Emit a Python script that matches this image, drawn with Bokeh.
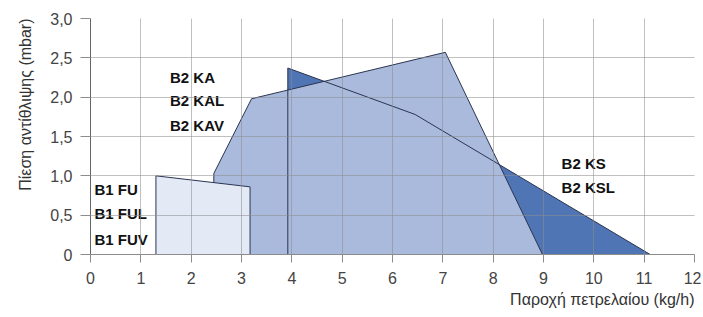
from bokeh.plotting import figure
from bokeh.models import FixedTicker, Range1d, Title
from bokeh.core.properties import value
from bokeh.embed import file_html
from bokeh.resources import INLINE

# Data
fu_x = [1.3, 1.3, 3.17, 3.17]
fu_y = [0.0, 1.0, 0.86, 0.0]
ka_x = [2.45, 2.45, 3.2, 7.05, 8.98]
ka_y = [0.0, 1.03, 1.98, 2.57, 0.0]
ks_x = [3.92, 3.92, 6.45, 11.12]
ks_y = [0.0, 2.37, 1.78, 0.0]

labels_ka = ["B2 KA", "B2 KAL", "B2 KAV"]
labels_ka_y = [2.25, 1.96, 1.64]
labels_fu = ["B1 FU", "B1 FUL", "B1 FUV"]
labels_fu_y = [0.82, 0.52, 0.19]
labels_ks = ["B2 KS", "B2 KSL"]
labels_ks_y = [1.16, 0.85]

x_ticks = list(range(0, 13))
y_ticks = [0, 0.5, 1.0, 1.5, 2.0, 2.5, 3.0]
y_tick_labels = ["0", "0,5", "1,0", "1,5", "2,0", "2,5", "3,0"]

x_title = "Παροχή πετρελαίου (kg/h)"
y_title = "Πίεση αντίθλιψης (mbar)"

p = figure(width=701, height=315, output_backend="svg", toolbar_location=None,
           x_range=Range1d(0, 12), y_range=Range1d(0, 3),
           min_border_left=90, min_border_right=7, min_border_top=18, min_border_bottom=61)
p.outline_line_color = None
p.background_fill_color = "white"

edge = "#2b3550"
# KS fill (bottom layer)
p.patch(ks_x, ks_y, fill_color="#5075b4", line_color=None)
# KA
p.patch(ka_x, ka_y, fill_color="#a9badc", line_color=edge, line_width=1)
# FU
p.patch(fu_x, fu_y, fill_color="#e3e9f5", line_color=edge, line_width=1)
# KS outline on top
p.line(ks_x + [ks_x[0]], ks_y + [ks_y[0]], line_color=edge, line_width=1)

font = value("Liberation Sans")
for xs, ys, txt in ((1.58, labels_ka_y, labels_ka), (0.08, labels_fu_y, labels_fu),
                    (9.36, labels_ks_y, labels_ks)):
    p.text([xs] * len(ys), ys, text=txt, text_font=font, text_font_style="bold",
           text_font_size="15px", text_baseline="middle", text_color="#111111")

# grids
for g in (p.xgrid, p.ygrid):
    g.grid_line_color = "#8c8c8c"
    g.grid_line_alpha = 0.55
    g.level = "overlay"
p.xgrid.ticker = FixedTicker(ticks=x_ticks)
p.ygrid.ticker = FixedTicker(ticks=y_ticks)

xa = p.xaxis[0]
ya = p.yaxis[0]
xa.ticker = FixedTicker(ticks=x_ticks)
ya.ticker = FixedTicker(ticks=y_ticks)
ya.major_label_overrides = {t: l for t, l in zip(y_ticks, y_tick_labels)}

for ax in (xa, ya):
    ax.axis_line_color = "#8c8c8c"
    ax.major_tick_line_color = "#8c8c8c"
    ax.minor_tick_line_color = None
    ax.major_tick_in = 0
    ax.major_label_text_font = "Liberation Sans"
    ax.major_label_text_font_size = "16px"
    ax.major_label_text_color = "#444444"

ya.axis_line_color = "#666666"
xa.major_tick_out = 8
ya.major_tick_out = 10
xa.major_label_standoff = 9
ya.major_label_standoff = 8

p.add_layout(Title(text=x_title, align="right", text_font="Liberation Sans",
                   text_font_size="16px", text_font_style="normal", text_color="#333333",
                   standoff=5, offset=0), "below")
p.add_layout(Title(text=y_title, align="right", text_font="Liberation Sans",
                   text_font_size="16px", text_font_style="normal", text_color="#333333",
                   standoff=27, offset=0), "left")

open("out.html", "w").write(file_html(p, INLINE))
